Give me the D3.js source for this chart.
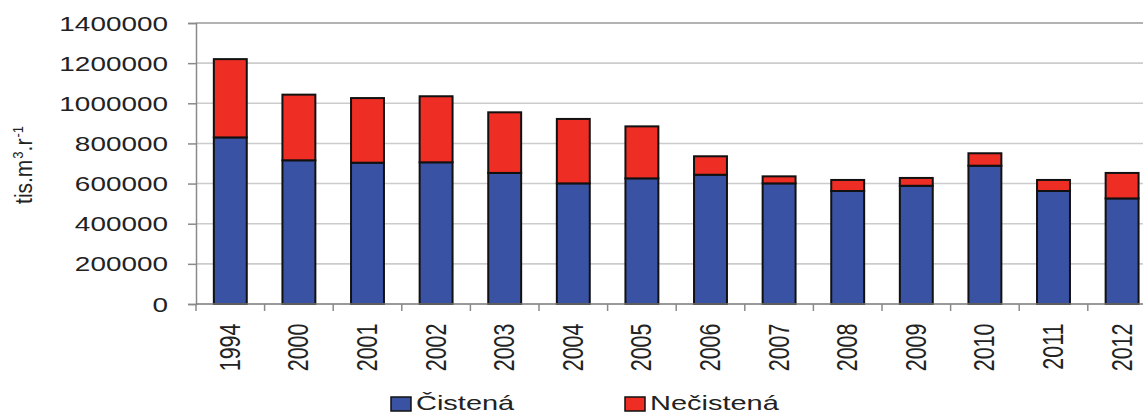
<!DOCTYPE html>
<html>
<head>
<meta charset="utf-8">
<script src="https://cdn.jsdelivr.net/npm/d3@7"></script>
<style>
  html, body { margin: 0; padding: 0; background: #fff; }
  svg { display: block; font-family: "Liberation Sans", Arial, sans-serif; }
</style>
</head>
<body>
<svg id="chart" width="1143" height="414"></svg>
<script>
// ---- data ----
const years = ["1994","2000","2001","2002","2003","2004","2005","2006","2007","2008","2009","2010","2011","2012"];
const cistena   = [830000, 716000, 704000, 706000, 653000, 601000, 626000, 644000, 601000, 563000, 589000, 689000, 563000, 526000];
const necistena = [390000, 327000, 322000, 329000, 302000, 321000, 259000,  92000,  35000,  55000,  39000,  62000,  55000, 127000];
const yTicks = [0, 200000, 400000, 600000, 800000, 1000000, 1200000, 1400000];
const seriesNames = ["Čistená", "Nečistená"];
const seriesColors = ["#3a52a4", "#ee2e24"];

(function () {
// ---- layout ----
const svg = d3.select("#chart");
const pLeft = 196, pRight = 1156.4, pTop = 23, pBottom = 304;
const SX = 1.33; // horizontal stretch of text seen in the reference

const x = d3.scaleBand().domain(years).range([pLeft, pRight]).paddingInner(0.52).paddingOuter(0.26);
const y = d3.scaleLinear().domain([0, 1400000]).range([pBottom, pTop]);

// gridlines
svg.append("g").selectAll("line").data(yTicks.filter(d => d > 0)).join("line")
  .attr("x1", pLeft).attr("x2", 1143)
  .attr("y1", d => y(d)).attr("y2", d => y(d))
  .attr("stroke", d => d === 1400000 ? "#9a9a9a" : "#cccccc")
  .attr("stroke-width", 1.6);

// y axis
const yAxis = svg.append("g").attr("transform", `translate(${pLeft},0)`)
  .call(d3.axisLeft(y).tickValues(yTicks).tickSize(8).tickFormat(""));
yAxis.select(".domain").attr("stroke", "#8a8a8a").attr("stroke-width", 1.5);
yAxis.selectAll(".tick line").attr("stroke", "#8a8a8a").attr("stroke-width", 1.5);

// y labels
svg.append("g").selectAll("text").data(yTicks).join("text")
  .attr("transform", d => `translate(168,${y(d)}) scale(${SX},1)`)
  .attr("dy", "0.36em")
  .attr("text-anchor", "end")
  .attr("font-size", 21)
  .attr("fill", "#222")
  .text(d => d);

// stacked bars
const stackData = years.map((yr, i) => ({year: yr, c: cistena[i], n: necistena[i]}));
const stack = d3.stack().keys(["c", "n"])(stackData);
svg.append("g").selectAll("g").data(stack).join("g")
  .attr("fill", (d, i) => seriesColors[i])
  .selectAll("rect").data(d => d).join("rect")
  .attr("x", d => x(d.data.year))
  .attr("width", x.bandwidth())
  .attr("y", d => y(d[1]))
  .attr("height", d => y(d[0]) - y(d[1]))
  .attr("stroke", "#111")
  .attr("stroke-width", 2);

// x axis
const step = x.step();
const xAxis = svg.append("g").attr("transform", `translate(0,${pBottom})`);
xAxis.append("line").attr("x1", pLeft).attr("x2", 1143).attr("y1", 0).attr("y2", 0)
  .attr("stroke", "#777").attr("stroke-width", 1.6);
xAxis.selectAll("line.tk").data(d3.range(years.length + 1)).join("line").attr("class", "tk")
  .attr("x1", i => pLeft + i * step).attr("x2", i => pLeft + i * step)
  .attr("y1", 0).attr("y2", 7)
  .attr("stroke", "#8a8a8a").attr("stroke-width", 1.5);

// x labels (rotated)
svg.append("g").selectAll("text").data(years).join("text")
  .attr("transform", d => `translate(${x(d) + x.bandwidth() / 2 - 1},323.5) scale(1.36,1) rotate(-90)`)
  .attr("text-anchor", "end")
  .attr("dy", "0.36em")
  .attr("font-size", 21.5)
  .attr("fill", "#222")
  .text(d => d);

// y axis title
const yt = svg.append("text")
  .attr("transform", `translate(32,165) scale(1.15,1) rotate(-90)`)
  .attr("text-anchor", "middle")
  .attr("font-size", 21)
  .attr("fill", "#222");
yt.append("tspan").text("tis.m");
yt.append("tspan").attr("dy", -8).attr("dx", 1).attr("font-size", 13).text("3");
yt.append("tspan").attr("dy", 8).text(".r");
yt.append("tspan").attr("dy", -8).attr("dx", 1).attr("font-size", 13).text("-1");

// legend
const legendX = [391, 625];
const lg = svg.append("g").selectAll("g").data(seriesNames).join("g");
lg.append("rect")
  .attr("x", (d, i) => legendX[i]).attr("y", 397)
  .attr("width", 20).attr("height", 14)
  .attr("fill", (d, i) => seriesColors[i])
  .attr("stroke", "#111").attr("stroke-width", 1.5);
lg.append("text")
  .attr("transform", (d, i) => `translate(${legendX[i] + 25},409.5) scale(1.38,1)`)
  .attr("font-size", 21)
  .attr("fill", "#222")
  .text(d => d);
})();
</script>
</body>
</html>
